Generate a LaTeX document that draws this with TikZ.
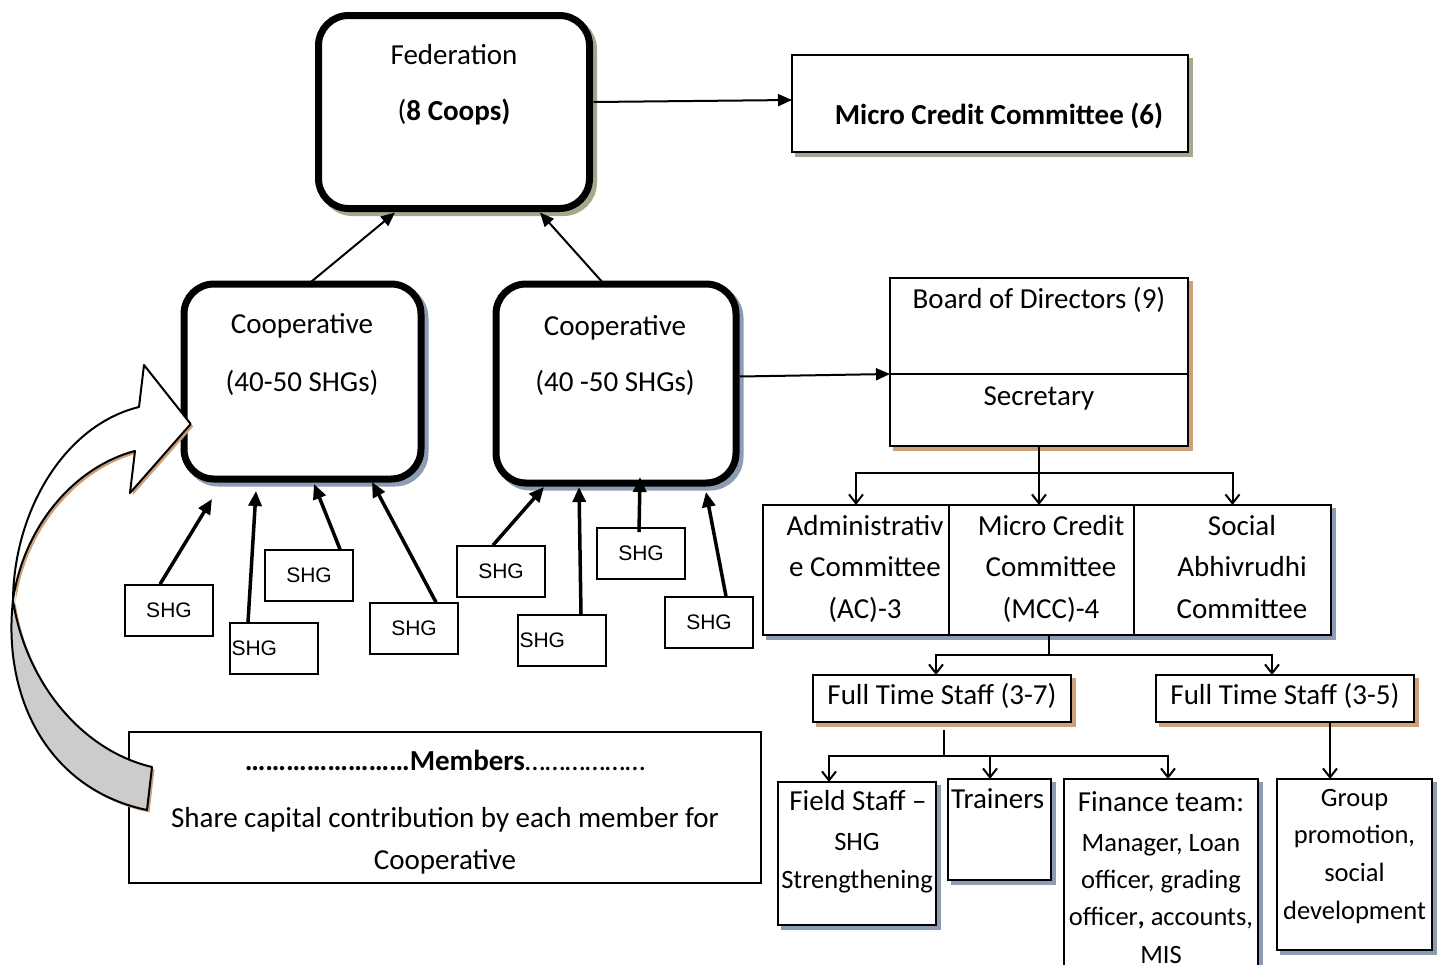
\documentclass[tikz,border=0pt]{standalone}
\usepackage{fontspec}
\setmainfont{Carlito}
\newfontfamily\arialfont{Liberation Sans}
\usetikzlibrary{arrows.meta,fit,shadows,calc}
\definecolor{olivesh}{RGB}{162,170,142}
\definecolor{bluesh}{RGB}{140,156,178}
\definecolor{tansh}{RGB}{204,160,122}
\definecolor{arrowgray}{RGB}{204,204,204}
\tikzset{
  x=1pt, y=-1pt,
  fedbox/.style={draw, line width=7pt, rounded corners=30pt, fill=white, inner sep=0pt, outer sep=0pt},
  plainbox/.style={draw, line width=2.2pt, fill=white, inner sep=0pt, outer sep=0pt},
  membox/.style={draw, line width=1.5pt, fill=white, inner sep=0pt, outer sep=0pt},
  shg/.style={draw, line width=1.6pt, fill=white, inner sep=0pt, minimum width=88pt, minimum height=51pt,
    font=\arialfont\fontsize{21}{25}\selectfont},
  shgleft/.style={shg, text width=85pt, align=left},
  shOlive/.style={drop shadow={shadow xshift=4pt, shadow yshift=-4pt, opacity=1, fill=olivesh, draw=olivesh}},
  shBlue/.style={drop shadow={shadow xshift=4pt, shadow yshift=-4pt, opacity=1, fill=bluesh, draw=bluesh}},
  shTan/.style={drop shadow={shadow xshift=4pt, shadow yshift=-4pt, opacity=1, fill=tansh, draw=tansh}},
  txt/.style={font=\fontsize{29}{41.5}\selectfont, align=center, anchor=base, inner sep=0pt},
  btxt/.style={font=\bfseries\fontsize{29}{41.5}\selectfont, align=center, anchor=base, inner sep=0pt},
  stxt/.style={font=\fontsize{26.5}{37.6}\selectfont, align=center, anchor=base, inner sep=0pt},
  fillarrow/.style={line width=2pt, -{Triangle[length=14pt,width=12pt]}},
  shgarrow/.style={line width=3.5pt, -{Triangle[length=15pt,width=13pt]}},
  orgarrow/.style={line width=2pt, -{Straight Barb[length=9pt,width=14pt]}},
  orgline/.style={line width=2pt},
}
\begin{document}
\begin{tikzpicture}
\useasboundingbox (0,0) rectangle (1443,964);
\clip (0,0) rectangle (1443,964);

% ---------- boxes ----------
\node[fedbox, shOlive, fit={(318.5,15.5) (589.5,208.5)}] (fed) {};
\node[plainbox, shOlive, fit={(792,55) (1188,152)}] (mcctop) {};
\node[fedbox, shBlue, fit={(184,284) (421,479)}] (coopA) {};
\node[fedbox, shBlue, fit={(496,284) (736,483)}] (coopB) {};
\node[plainbox, shTan, fit={(890,278) (1188,374)}] (bod) {};
\node[plainbox, shTan, fit={(890,374) (1188,446)}] (sec) {};
\node[plainbox, shBlue, fit={(763,505) (949,635)}] (ac) {};
\node[plainbox, shBlue, fit={(949,505) (1134,635)}] (mcc) {};
\node[plainbox, shBlue, fit={(1134,505) (1331,635)}] (sa) {};
\node[plainbox, shTan, fit={(813,675) (1071,722)}] (ftsA) {};
\node[plainbox, shTan, fit={(1156,675) (1414,722)}] (ftsB) {};
\node[plainbox, shBlue, fit={(778,782) (936,925)}] (field) {};
\node[plainbox, shBlue, fit={(948,779) (1051,880)}] (trainers) {};
\node[plainbox, shBlue, fit={(1064,779) (1258,1000)}] (finance) {};
\node[plainbox, shBlue, fit={(1277,779) (1432,950)}] (group) {};
\node[membox, fit={(129,732) (761,883)}] (members) {};

% SHG boxes
\node[shg] (shg1) at (169,610.5) {SHG};
\node[shgleft] (shg2) at (274,648.5) {SHG};
\node[shg] (shg3) at (309,575.5) {SHG};
\node[shg] (shg4) at (414,628.5) {SHG};
\node[shg] (shg5) at (501,571.5) {SHG};
\node[shgleft] (shg6) at (562,640.5) {SHG};
\node[shg] (shg7) at (641,553.5) {SHG};
\node[shg] (shg8) at (709,622.5) {SHG};

% ---------- texts (anchor base = last line) ----------
\node[txt] (fedt) at (454,120) {Federation\\[14.5pt](\textbf{8 Coops)}};
\node[btxt] (mcctopt) at (999,124) {Micro Credit Committee (6)};
\node[txt] (coopAt) at (302,391) {Cooperative\\[16pt](40-50 SHGs)};
\node[txt] (coopBt) at (615,391) {Cooperative\\[14.5pt](40 -50 SHGs)};
\node[txt] (bodt) at (1039,308) {Board of Directors (9)};
\node[txt] (sect) at (1039,405) {Secretary};
\node[txt] (act) at (865,618) {Administrativ\\e Committee\\(AC)-3};
\node[txt] (mcct) at (1051,618) {Micro Credit\\Committee\\(MCC)-4};
\node[txt] (sat) at (1242,618) {Social\\Abhivrudhi\\Committee};
\node[txt] (ftsAt) at (942,704) {Full Time Staff (3-7)};
\node[txt] (ftsBt) at (1285,704) {Full Time Staff (3-5)};
\node[txt] (fieldt) at (858,810) {Field Staff –};
\node[stxt] (fieldt2) at (857,888) {SHG\\Strengthening};
\node[txt, anchor=base west] (trt) at (951,808) {Trainers};
\node[txt] (fint) at (1161,811) {Finance team:};
\node[stxt, font=\fontsize{26.5}{37.2}\selectfont] (fint2) at (1161,963) {Manager, Loan\\officer, grading\\officer\textbf{,} accounts,\\MIS};
\node[stxt] (grt) at (1354.5,919) {Group\\promotion,\\social\\development};
\node[txt] (memt) at (445,869) {\textbf{……………………Members}………………\\[16pt]Share capital contribution by each member for\\Cooperative};

% ---------- curved arrow ----------
\begin{scope}[shift={(2.5,2.5)}]
  \fill[tansh] (139,407) -- (144,365) -- (190.7,424) -- (130,493) -- (135,451)
    .. controls (80,465) and (25,520) .. (13,600)
    .. controls (2,700) and (50,790) .. (147,810) -- (152,767)
    .. controls (80,750) and (25,680) .. (13,600)
    .. controls (14,510) and (65,425) .. (139,407) -- cycle;
\end{scope}
\filldraw[fill=white, line width=2pt, line join=round]
  (139,407) -- (144,365) -- (190.7,424) -- (130,493) -- (135,451)
  .. controls (80,465) and (25,520) .. (13,600)
  .. controls (14,510) and (65,425) .. (139,407) -- cycle;
\filldraw[fill=arrowgray, line width=2pt, line join=round]
  (13,600) .. controls (2,700) and (50,790) .. (147,810) -- (152,767)
  .. controls (80,750) and (25,680) .. (13,600) -- cycle;

% ---------- connectors ----------
\draw[fillarrow] ([xshift=6pt]coopA.north) -- ([xshift=-59pt,yshift=-4pt]fed.south);
\draw[fillarrow] ([xshift=-12pt]coopB.north) -- ([xshift=86pt,yshift=-4pt]fed.south);
\draw[fillarrow] ([xshift=4pt,yshift=10pt]fed.east) -- ([yshift=3.5pt]mcctop.west);
\draw[fillarrow] ([xshift=4pt,yshift=7pt]coopB.east) -- (bod.south west);

\coordinate (t1) at (212,499);
\coordinate (t2) at (256,491);
\coordinate (t3) at (314,484);
\coordinate (t4) at (372,482);
\coordinate (t5) at (544,487);
\coordinate (t6) at (579,487);
\coordinate (t7) at (640,477);
\coordinate (t8) at (706,492);
\draw[shgarrow] ([xshift=-9pt]shg1.north) -- (t1);
\draw[shgarrow] ([xshift=-26pt]shg2.north) -- (t2);
\draw[shgarrow] ([xshift=31pt]shg3.north) -- (t3);
\draw[shgarrow] ([xshift=22pt]shg4.north) -- (t4);
\draw[shgarrow] ([xshift=-8pt]shg5.north) -- (t5);
\draw[shgarrow] ([xshift=19pt]shg6.north) -- (t6);
\draw[shgarrow] ([xshift=-2pt,yshift=-5pt]shg7.north) -- (t7);
\draw[shgarrow] ([xshift=17pt]shg8.north) -- (t8);

\coordinate (j1) at ($(sec.south)+(0,27)$);
\draw[orgline] (sec.south) -- (j1);
\draw[orgarrow] (j1) -| (ac.north);
\draw[orgarrow] (j1) -- (j1 |- mcc.north);
\draw[orgarrow] (j1) -| (sa.north);

\coordinate (j2) at (1049,655);
\draw[orgline] (j2 |- mcc.south) -- (j2);
\draw[orgarrow] (j2) -| ([xshift=-6pt]ftsA.north);
\draw[orgarrow] (j2) -| ([xshift=-13pt]ftsB.north);

\coordinate (j3) at (944,756);
\draw[orgline] ([xshift=2pt,yshift=-8pt]ftsA.south) -- (j3);
\draw[orgarrow] (j3) -| ([xshift=-28pt]field.north);
\draw[orgarrow] (j3) -| ([xshift=-9.5pt]trainers.north);
\draw[orgarrow] (j3) -| ([xshift=7pt]finance.north);

\draw[orgarrow] ([xshift=45pt]ftsB.south) -- ([xshift=-24.5pt]group.north);
\end{tikzpicture}
\end{document}
